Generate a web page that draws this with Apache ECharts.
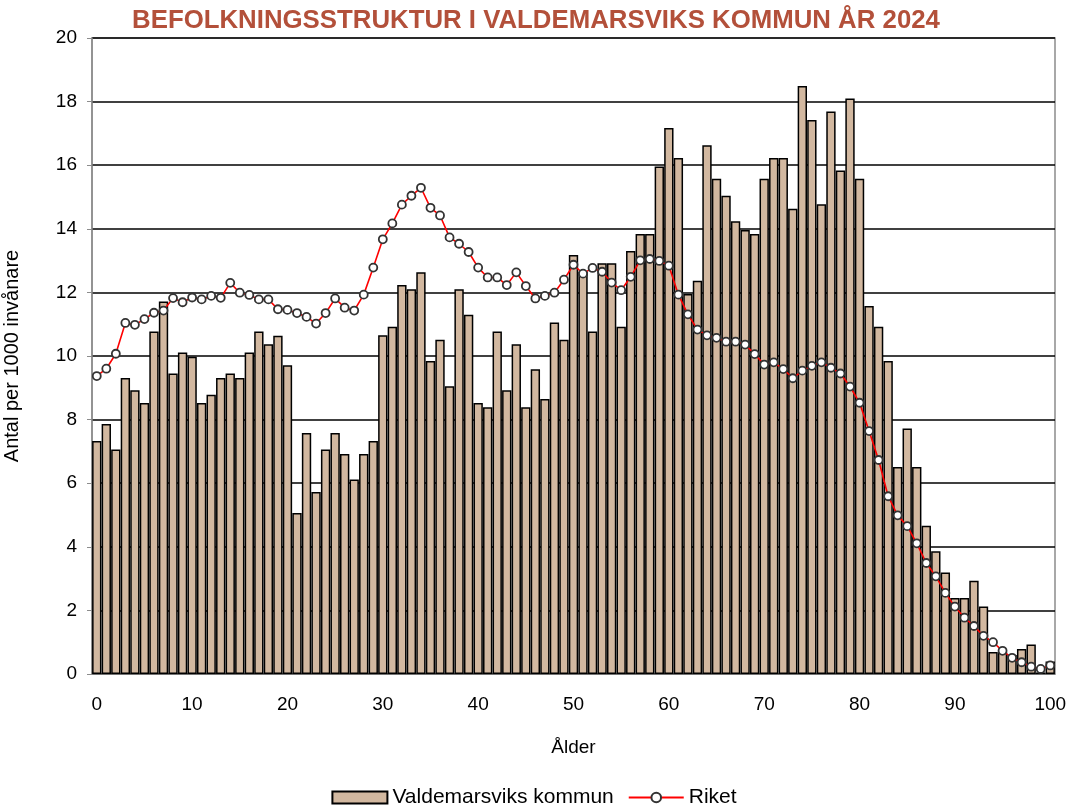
<!DOCTYPE html>
<html>
<head>
<meta charset="utf-8">
<script src="https://cdn.jsdelivr.net/npm/echarts@6/dist/echarts.min.js"></script>
<style>
	html, body { margin: 0; padding: 0; background: #fff; }
	#main { width: 1068px; height: 807px; }
</style>
</head>
<body>
<div id="main"></div>
<script>
// Ålder 0-100
var ages = [
	'0', '1', '2', '3', '4', '5', '6', '7', '8', '9',
	'10', '11', '12', '13', '14', '15', '16', '17', '18', '19',
	'20', '21', '22', '23', '24', '25', '26', '27', '28', '29',
	'30', '31', '32', '33', '34', '35', '36', '37', '38', '39',
	'40', '41', '42', '43', '44', '45', '46', '47', '48', '49',
	'50', '51', '52', '53', '54', '55', '56', '57', '58', '59',
	'60', '61', '62', '63', '64', '65', '66', '67', '68', '69',
	'70', '71', '72', '73', '74', '75', '76', '77', '78', '79',
	'80', '81', '82', '83', '84', '85', '86', '87', '88', '89',
	'90', '91', '92', '93', '94', '95', '96', '97', '98', '99', '100'
];

// antal per 1000 invånare
var kommun = [
	7.33, 7.86, 7.06, 9.31, 8.92, 8.52, 10.77, 11.71, 9.45, 10.11,
	9.98, 8.52, 8.78, 9.31, 9.45, 9.31, 10.11, 10.77, 10.37, 10.64,
	9.71, 5.06, 7.58, 5.72, 7.06, 7.58, 6.92, 6.12, 6.92, 7.33,
	10.65, 10.92, 12.23, 12.10, 12.63, 9.84, 10.51, 9.05, 12.10, 11.30,
	8.52, 8.39, 10.77, 8.92, 10.37, 8.39, 9.58, 8.65, 11.05, 10.51,
	13.18, 12.65, 10.77, 12.92, 12.92, 10.92, 13.30, 13.84, 13.84, 15.96,
	17.17, 16.23, 11.95, 12.37, 16.63, 15.57, 15.04, 14.24, 13.96, 13.84,
	15.57, 16.23, 16.23, 14.63, 18.49, 17.42, 14.77, 17.69, 15.83, 18.10,
	15.57, 11.57, 10.92, 9.84, 6.51, 7.72, 6.51, 4.66, 3.86, 3.19,
	2.39, 2.39, 2.93, 2.12, 0.69, 0.68, 0.60, 0.79, 0.93, 0.05, 0.39
];

var riket = [
	9.37, 9.60, 10.07, 11.04, 10.98, 11.16, 11.36, 11.43, 11.82, 11.69,
	11.84, 11.78, 11.89, 11.83, 12.30, 11.99, 11.92, 11.78, 11.78, 11.47,
	11.45, 11.35, 11.23, 11.02, 11.35, 11.81, 11.52, 11.43, 11.93, 12.78,
	13.67, 14.17, 14.76, 15.04, 15.29, 14.66, 14.42, 13.73, 13.53, 13.27,
	12.78, 12.47, 12.47, 12.23, 12.63, 12.20, 11.81, 11.89, 11.99, 12.40,
	12.87, 12.59, 12.77, 12.65, 12.31, 12.07, 12.49, 13.01, 13.05, 12.99,
	12.84, 11.93, 11.31, 10.83, 10.65, 10.57, 10.45, 10.45, 10.36, 10.06,
	9.73, 9.80, 9.59, 9.30, 9.54, 9.69, 9.80, 9.63, 9.45, 9.04,
	8.53, 7.64, 6.73, 5.59, 4.99, 4.65, 4.11, 3.49, 3.07, 2.55,
	2.12, 1.77, 1.51, 1.20, 1.00, 0.73, 0.51, 0.37, 0.23, 0.16, 0.27
];

var yTicks = [0, 2, 4, 6, 8, 10, 12, 14, 16, 18, 20];

var myChart = echarts.init(document.getElementById('main'));
var font = 'Liberation Sans, Arial, sans-serif';

var option = {
	animation: false,
	textStyle: { fontFamily: font },
	title: {
		text: 'BEFOLKNINGSSTRUKTUR I VALDEMARSVIKS KOMMUN ÅR 2024',
		left: 531,
		textAlign: 'center',
		top: 3,
		textStyle: {
			color: '#B3503A',
			fontSize: 25.8,
			fontWeight: 'bold',
			fontFamily: font
		}
	},
	legend: {
		data: [{ name: 'Valdemarsviks kommun', icon: 'rect' }, 'Riket'],
		top: 782,
		left: 'center',
		itemWidth: 55,
		itemHeight: 12,
		itemGap: 14,
		textStyle: { fontSize: 21, color: '#000', fontFamily: font }
	},
	grid: {
		left: 92,
		right: 13,
		top: 38,
		bottom: 133,
		outerBoundsMode: 'none',
		show: true,
		borderColor: '#8c8c8c',
		borderWidth: 1.5
	},
	xAxis: {
		type: 'category',
		data: ages,
		name: 'Ålder',
		nameLocation: 'middle',
		nameGap: 64,
		nameTextStyle: { fontSize: 19, color: '#000' },
		axisLine: { lineStyle: { color: '#8c8c8c', width: 1.5 } },
		axisTick: { interval: 0, length: 5, lineStyle: { color: '#8c8c8c' } },
		axisLabel: {
			interval: function (i) { return i % 10 === 0; },
			fontSize: 19,
			color: '#000',
			margin: 21
		}
	},
	yAxis: {
		type: 'value',
		min: yTicks[0],
		max: yTicks[yTicks.length - 1],
		interval: 2,
		name: 'Antal per 1000 invånare',
		nameLocation: 'middle',
		nameGap: 70,
		nameTextStyle: { fontSize: 20, color: '#000' },
		axisLine: { show: true, lineStyle: { color: '#8c8c8c', width: 1.5 } },
		axisTick: { show: true, length: 5, lineStyle: { color: '#8c8c8c' } },
		axisLabel: { fontSize: 19, color: '#000', margin: 15 },
		splitLine: { lineStyle: { color: '#000', width: 1.5 } }
	},
	series: [{
		name: 'Valdemarsviks kommun',
		type: 'bar',
		data: kommun,
		barCategoryGap: '2%',
		itemStyle: {
			color: '#D2B8A0',
			borderColor: '#000',
			borderWidth: 1.5
		}
	}, {
		name: 'Riket',
		type: 'line',
		data: riket,
		showAllSymbol: true,
		symbol: 'circle',
		symbolSize: 8,
		lineStyle: { color: '#FF0000', width: 1.6 },
		itemStyle: {
			color: '#fff',
			borderColor: '#333',
			borderWidth: 1.8
		}
	}]
};

myChart.setOption(option);
</script>
</body>
</html>
